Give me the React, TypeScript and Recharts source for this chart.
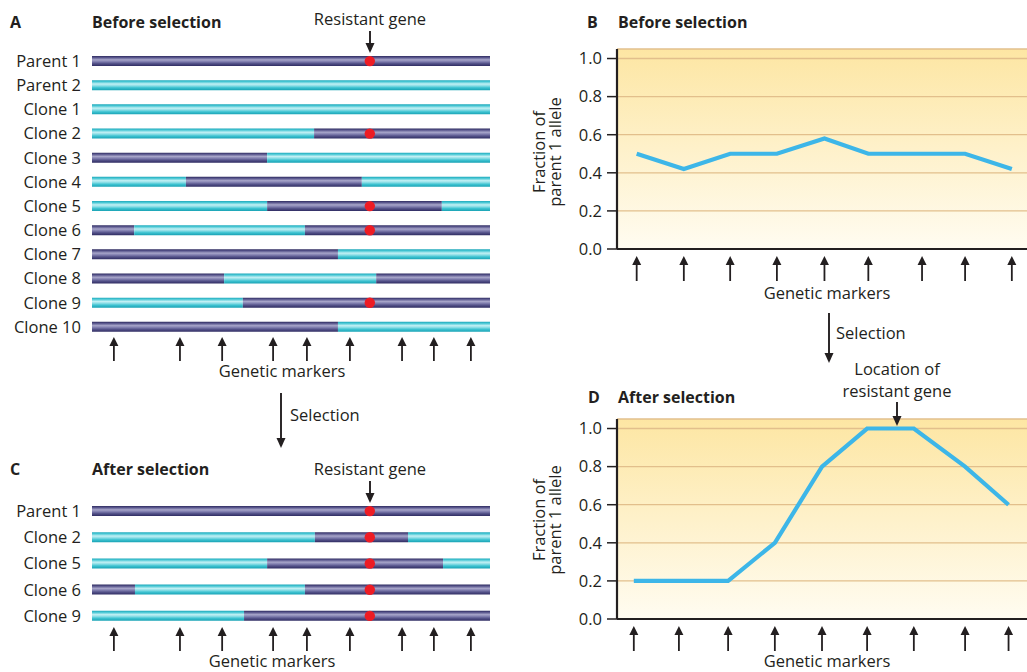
import React from 'react'
import { Bar, BarChart, CartesianGrid, Cell, Line, LineChart, ReferenceDot, XAxis, YAxis } from 'recharts'

const FONT = '"Open Sans", "DejaVu Sans", sans-serif'
const INK = '#231f20'
const P1_FILL = 'url(#parent1Bar)'
const P2_FILL = 'url(#parent2Bar)'
const LINE_BLUE = '#3db6e8'

// positions along the chromosome, in % of its length
const GENE_POS = 69.8
const chromMarkers = [5.5, 22.1, 32.7, 45.5, 54.0, 64.8, 77.9, 85.9, 95.2]

// A: before selection. start = allele at left end (1 = parent 1, 2 = parent 2)
const beforeNames = ['Parent 1', 'Parent 2', 'Clone 1', 'Clone 2', 'Clone 3', 'Clone 4', 'Clone 5', 'Clone 6', 'Clone 7', 'Clone 8', 'Clone 9', 'Clone 10']
const beforeStart = [1, 2, 2, 2, 1, 2, 2, 1, 1, 1, 2, 1]
const beforeBreaks = [[], [], [], [55.8], [44.0], [23.6, 67.8], [44.0, 87.9], [10.6, 53.5], [61.8], [33.2, 71.4], [37.9], [61.8]]

// C: after selection
const afterNames = ['Parent 1', 'Clone 2', 'Clone 5', 'Clone 6', 'Clone 9']
const afterStart = [1, 2, 2, 1, 2]
const afterBreaks = [[], [56.0, 79.4], [44.0, 88.2], [10.8, 53.5], [38.2]]

// B and D: fraction of parent 1 allele at each genetic marker
const markersB = [4.8, 16.3, 27.6, 39.0, 50.6, 61.3, 74.4, 84.9, 96.3]
const fractionBefore = [0.5, 0.42, 0.5, 0.5, 0.58, 0.5, 0.5, 0.5, 0.42]
const markersD = [4.1, 15.1, 27.1, 38.5, 50.0, 61.0, 72.4, 84.9, 95.5]
const fractionAfter = [0.2, 0.2, 0.2, 0.4, 0.8, 1.0, 1.0, 0.8, 0.6]
const fractionTicks = [0, 0.2, 0.4, 0.6, 0.8, 1.0]

const SEGMENTS = [0, 1, 2, 3]

const buildRows = (names: string[], starts: number[], breaks: number[][]) =>
  names.map((name, i) => {
    const edges = [0, ...breaks[i], 100]
    const row: any = { name, start: starts[i] }
    SEGMENTS.forEach((k) => {
      row[`s${k}`] = k < edges.length - 1 ? edges[k + 1] - edges[k] : 0
    })
    // which parent's allele sits at the resistant gene
    const crossed = breaks[i].filter((b) => b < GENE_POS).length
    row.geneAllele = crossed % 2 === 0 ? starts[i] : 3 - starts[i]
    return row
  })

const beforeRows = buildRows(beforeNames, beforeStart, beforeBreaks)
const afterRows = buildRows(afterNames, afterStart, afterBreaks)

const lineData = (markers: number[], values: number[]) => markers.map((pos, i) => ({ pos, value: values[i] }))

const MarkerArrow = (props: any) => {
  const { x, y, offset, length } = props
  const y0 = y + offset
  return (
    <g>
      <line x1={x} y1={y0 + 6} x2={x} y2={y0 + length} stroke={INK} strokeWidth={1.8} />
      <path d={`M${x - 4.5} ${y0 + 9} L${x} ${y0} L${x + 4.5} ${y0 + 9} Z`} fill={INK} />
    </g>
  )
}

const DownArrow = ({ x, y1, y2 }: { x: number; y1: number; y2: number }) => (
  <g>
    <line x1={x} y1={y1} x2={x} y2={y2 - 6} stroke={INK} strokeWidth={1.9} />
    <path d={`M${x - 4.5} ${y2 - 10} L${x} ${y2} L${x + 4.5} ${y2 - 10} Z`} fill={INK} />
  </g>
)

function ChromosomePanel({ rows, top, height, marginTop, plotHeight }: { rows: any[]; top: number; height: number; marginTop: number; plotHeight: number }) {
  return (
    <div style={{ position: 'absolute', left: 0, top }}>
      <BarChart
        width={510}
        height={height}
        data={rows}
        layout='vertical'
        margin={{ top: marginTop, right: 20, left: 0, bottom: 0 }}
        barCategoryGap={0}
      >
        <XAxis
          type='number'
          domain={[0, 100]}
          allowDataOverflow
          ticks={chromMarkers}
          interval={0}
          axisLine={false}
          tickLine={false}
          tickSize={0}
          tickMargin={0}
          height={height - marginTop - plotHeight}
          tick={(p: any) => <MarkerArrow x={p.x} y={p.y} offset={-2} length={24} />}
        />
        <YAxis
          type='category'
          dataKey='name'
          width={92}
          interval={0}
          axisLine={false}
          tickLine={false}
          tickSize={0}
          tickMargin={11}
          tick={{ fill: INK, fontSize: 16.5, fontFamily: FONT }}
        />
        {SEGMENTS.map((k) => (
          <Bar key={k} dataKey={`s${k}`} stackId='chrom' barSize={10} isAnimationActive={false}>
            {rows.map((r, i) => (
              <Cell key={i} fill={(r.start + k) % 2 === 1 ? P1_FILL : P2_FILL} />
            ))}
          </Bar>
        ))}
        {rows
          .filter((r) => r.geneAllele === 1)
          .map((r) => (
            <ReferenceDot key={r.name} x={GENE_POS} y={r.name} r={5.2} fill='#ed1c24' stroke='none' />
          ))}
      </BarChart>
    </div>
  )
}

function FractionPanel({ data, markers, top, height }: { data: any[]; markers: number[]; top: number; height: number }) {
  return (
    <div style={{ position: 'absolute', left: 520, top }}>
      <LineChart width={507} height={height} data={data} margin={{ top: 49, right: 0, left: 0, bottom: 0 }}>
        <CartesianGrid vertical={false} stroke='#e2bf8c' strokeWidth={1.3} fill='url(#plotBg)' fillOpacity={1} />
        <XAxis
          type='number'
          dataKey='pos'
          domain={[0, 100]}
          allowDataOverflow
          ticks={markers}
          interval={0}
          axisLine={{ stroke: INK, strokeWidth: 2.2 }}
          tickLine={false}
          tickSize={0}
          tickMargin={0}
          height={height - 49 - 200}
          tick={(p: any) => <MarkerArrow x={p.x} y={p.y} offset={7} length={25} />}
        />
        <YAxis
          type='number'
          domain={[0, 1.05]}
          allowDataOverflow
          ticks={fractionTicks}
          interval={0}
          width={97}
          axisLine={{ stroke: INK, strokeWidth: 2.2 }}
          tickLine={{ stroke: INK, strokeWidth: 1.5 }}
          tickSize={10}
          tickMargin={5}
          tickFormatter={(v: number) => v.toFixed(1)}
          tick={{ fill: INK, fontSize: 16.5, fontFamily: FONT }}
        />
        <Line
          type='linear'
          dataKey='value'
          stroke={LINE_BLUE}
          strokeWidth={4.2}
          dot={false}
          activeDot={false}
          isAnimationActive={false}
        />
      </LineChart>
    </div>
  )
}

const regular = { fontFamily: FONT, fontSize: 16.5, fill: INK }
const bold = { fontFamily: FONT, fontSize: 16, fontWeight: 700, fill: INK }

const YTitle = ({ cy }: { cy: number }) => (
  <g style={regular}>
    <text x={545} y={cy} textAnchor='middle' transform={`rotate(-90 545 ${cy})`}>Fraction of</text>
    <text x={561} y={cy} textAnchor='middle' transform={`rotate(-90 561 ${cy})`}>parent 1 allele</text>
  </g>
)

export default function App() {
  return (
    <div style={{ position: 'absolute', left: 0, top: 0, width: 1027, height: 672, background: '#fff', overflow: 'hidden' }}>
      <svg width={0} height={0} style={{ position: 'absolute' }}>
        <defs>
          <linearGradient id='parent1Bar' x1='0' y1='0' x2='0' y2='1'>
            <stop offset='0' stopColor='#2e2b5f' />
            <stop offset='0.15' stopColor='#57548b' />
            <stop offset='0.38' stopColor='#a7a5c9' />
            <stop offset='0.55' stopColor='#8381b1' />
            <stop offset='0.75' stopColor='#55538a' />
            <stop offset='1' stopColor='#2f2c62' />
          </linearGradient>
          <linearGradient id='parent2Bar' x1='0' y1='0' x2='0' y2='1'>
            <stop offset='0' stopColor='#1fa8ba' />
            <stop offset='0.15' stopColor='#47c7d4' />
            <stop offset='0.38' stopColor='#c2f0f4' />
            <stop offset='0.55' stopColor='#8fdfe7' />
            <stop offset='0.75' stopColor='#3ec3d1' />
            <stop offset='1' stopColor='#19a2b4' />
          </linearGradient>
          <linearGradient id='plotBg' x1='0' y1='0' x2='0' y2='1'>
            <stop offset='0' stopColor='#fde6a3' />
            <stop offset='1' stopColor='#fffcf1' />
          </linearGradient>
        </defs>
      </svg>

      <ChromosomePanel rows={beforeRows} top={0} height={392} marginTop={49} plotHeight={290} />
      <ChromosomePanel rows={afterRows} top={440} height={232} marginTop={58} plotHeight={131} />
      <FractionPanel data={lineData(markersB, fractionBefore)} markers={markersB} top={0} height={310} />
      <FractionPanel data={lineData(markersD, fractionAfter)} markers={markersD} top={370} height={302} />

      <svg width={1027} height={672} style={{ position: 'absolute', left: 0, top: 0, pointerEvents: 'none' }}>
        {/* A */}
        <text x={10} y={28} style={bold}>A</text>
        <text x={92} y={28} style={bold}>Before selection</text>
        <text x={370} y={25} textAnchor='middle' style={regular}>Resistant gene</text>
        <DownArrow x={370} y1={31} y2={53} />
        <text x={282} y={377} textAnchor='middle' style={regular}>Genetic markers</text>

        <DownArrow x={281} y1={393} y2={448} />
        <text x={290} y={421} style={regular}>Selection</text>

        {/* C */}
        <text x={10} y={475} style={bold}>C</text>
        <text x={92} y={475} style={bold}>After selection</text>
        <text x={370} y={475} textAnchor='middle' style={regular}>Resistant gene</text>
        <DownArrow x={370} y1={481} y2={503} />
        <text x={272} y={667} textAnchor='middle' style={regular}>Genetic markers</text>

        {/* B */}
        <text x={587} y={28} style={bold}>B</text>
        <text x={618} y={28} style={bold}>Before selection</text>
        <YTitle cy={152} />
        <text x={827} y={299} textAnchor='middle' style={regular}>Genetic markers</text>

        <DownArrow x={829} y1={313} y2={363} />
        <text x={836} y={339} style={regular}>Selection</text>

        {/* D */}
        <text x={588} y={403} style={bold}>D</text>
        <text x={618} y={403} style={bold}>After selection</text>
        <text x={897} y={375} textAnchor='middle' style={regular}>Location of</text>
        <text x={897} y={397} textAnchor='middle' style={regular}>resistant gene</text>
        <DownArrow x={897} y1={402} y2={426} />
        <YTitle cy={520} />
        <text x={827} y={667} textAnchor='middle' style={regular}>Genetic markers</text>
      </svg>
    </div>
  )
}
